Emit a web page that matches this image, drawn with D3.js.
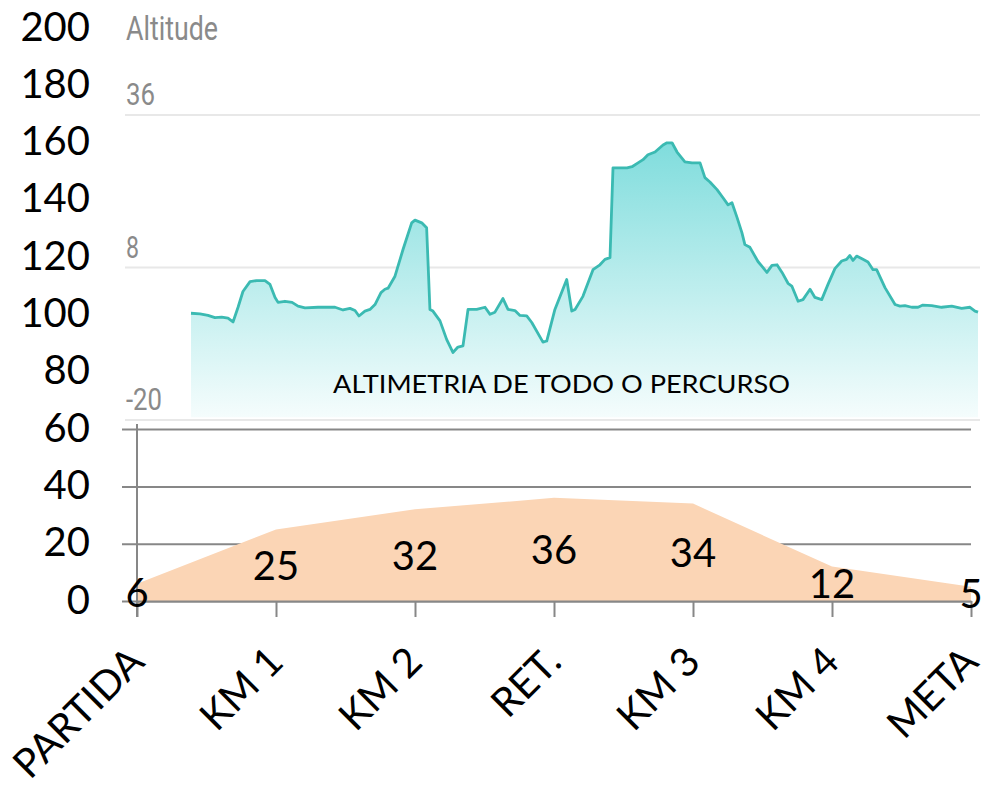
<html lang='pt'>
    <head>
        <title>
            Altimetria do percurso
        </title>
        <script src="https://d3js.org/d3.v7.min.js" charset="utf-8"></script>
        <style>
          body {
            margin: 0;
            background: #ffffff;
            font-family: "Lato", "Open Sans", sans-serif;
          }
          .inset-label {
            font-family: "Roboto", sans-serif;
            fill: #8a8a8a;
          }
        </style>
    </head>
    <body>
        <script>
            // 1. data for the main chart (excel-like area chart)
            var categories = ["PARTIDA", "KM 1", "KM 2", "RET.", "KM 3", "KM 4", "META"]
            var values = [6, 25, 32, 36, 34, 12, 5]
            var yTicks = [0, 20, 40, 60, 80, 100, 120, 140, 160, 180, 200]

            // 2. data for the pasted altitude profile (distance km, altitude m)
            var altDist = [0.000, 0.057, 0.108, 0.152, 0.195, 0.235, 0.267, 0.299, 0.330, 0.375,
                           0.417, 0.470, 0.502, 0.534, 0.553, 0.597, 0.642, 0.680, 0.724, 0.807,
                           0.915, 0.966, 1.010, 1.042, 1.067, 1.105, 1.137, 1.169, 1.207, 1.232,
                           1.252, 1.296, 1.347, 1.402, 1.423, 1.466, 1.497, 1.518, 1.537, 1.582,
                           1.624, 1.664, 1.696, 1.728, 1.760, 1.815, 1.868, 1.900, 1.931, 1.982,
                           2.014, 2.058, 2.090, 2.133, 2.165, 2.236, 2.260, 2.312, 2.387, 2.419,
                           2.440, 2.490, 2.554, 2.598, 2.630, 2.662, 2.681, 2.770, 2.802, 2.840,
                           2.872, 2.903, 2.948, 2.999, 3.024, 3.056, 3.088, 3.138, 3.183, 3.234,
                           3.265, 3.297, 3.342, 3.380, 3.412, 3.437, 3.469, 3.500, 3.519, 3.551,
                           3.602, 3.628, 3.659, 3.691, 3.723, 3.755, 3.793, 3.817, 3.857, 3.888,
                           3.933, 3.964, 4.007, 4.047, 4.091, 4.134, 4.165, 4.186, 4.206, 4.229,
                           4.269, 4.301, 4.333, 4.356, 4.409, 4.473, 4.504, 4.536, 4.579, 4.619,
                           4.650, 4.706, 4.769, 4.833, 4.896, 4.949, 4.981, 5.000]
            var altValue = [-0.4, -0.5, -0.8, -1.2, -1.1, -1.3, -2.0, 0.7, 3.6, 5.4,
                            5.6, 5.6, 4.9, 2.5, 1.6, 1.8, 1.6, 0.9, 0.6, 0.7,
                            0.7, 0.2, 0.5, 0.1, -0.9, 0.0, 0.3, 1.2, 3.4, 4.0,
                            4.2, 6.4, 11.3, 16.2, 16.7, 16.2, 15.3, 0.3, 0.0, -1.8,
                            -5.2, -7.6, -6.6, -6.4, 0.3, 0.3, 0.7, -0.6, -0.2, 2.3,
                            0.3, 0.1, -0.8, -0.9, -2.1, -5.7, -5.5, 0.3, 5.8, 0.0,
                            0.3, 2.7, 7.6, 8.5, 9.5, 9.8, 26.3, 26.3, 26.5, 27.2,
                            27.8, 28.7, 29.2, 30.5, 30.9, 30.9, 29.2, 27.4, 27.2, 27.2,
                            24.5, 23.7, 22.3, 20.8, 19.5, 19.9, 17.2, 14.4, 12.2, 11.7,
                            9.1, 8.2, 7.1, 8.4, 8.5, 7.1, 5.1, 4.6, 1.8, 2.1,
                            4.0, 2.5, 2.1, 4.9, 7.8, 9.2, 9.5, 10.2, 9.3, 10.1,
                            9.5, 9.0, 7.6, 7.6, 4.3, 1.2, 0.9, 1.0, 0.7, 0.7,
                            1.1, 1.0, 0.7, 0.9, 0.5, 0.7, 0.0, -0.2]
            var altTicks = [36, 8, -20]
            var altTitle = "Altitude"
            var altCaption = "ALTIMETRIA DE TODO O PERCURSO"

            // 3. svg canvas
            var width = 985
            var height = 785

            var svg = d3.select("body")
                        .append("svg")
                        .attr("width", width)
                        .attr("height", height)

            // 4. scales
            var x = d3.scalePoint()
              .domain(categories)
              .range([137, 971])

            var y = d3.scaleLinear()
              .domain([0, 200])
              .range([601, 28])

            var gridColor = "#878787"

            // 5. y axis = gridlines + labels
            var yAxisG = svg.append("g")
              .attr("transform", "translate(122,0)")
              .call(d3.axisLeft(y)
                .tickValues(yTicks)
                .tickSize(-(971 - 122))
                .tickPadding(32))

            yAxisG.select(".domain").remove()
            yAxisG.selectAll(".tick line")
              .attr("stroke", gridColor)
              .attr("stroke-width", 2)
            yAxisG.selectAll(".tick text")
              .attr("font-family", "Lato, sans-serif")
              .attr("font-size", 40)
              .attr("fill", "#000")
              .attr("dy", "0.3em")

            // 6. the area
            var area = d3.area()
              .x(function(d, i){ return x(categories[i]) })
              .y0(y(0))
              .y1(function(d){ return y(d) })

            svg.append("path")
              .datum(values)
              .attr("d", area)
              .attr("fill", "#fbd5b5")

            // 7. x axis (drawn over the area)
            var xAxisG = svg.append("g")
              .attr("transform", "translate(0," + y(0) + ")")
              .call(d3.axisBottom(x).tickSize(16).tickSizeOuter(0))

            xAxisG.select(".domain")
              .attr("stroke", gridColor)
              .attr("stroke-width", 2)
            xAxisG.selectAll(".tick line")
              .attr("stroke", gridColor)
              .attr("stroke-width", 2)
            xAxisG.selectAll(".tick text")
              .attr("font-family", "Lato, sans-serif")
              .attr("font-size", 40)
              .attr("fill", "#000")
              .attr("text-anchor", "end")
              .attr("x", 0)
              .attr("y", 0)
              .attr("dy", 0)
              .attr("transform", "translate(9,63) rotate(-45)")

            // y axis line
            svg.append("line")
              .attr("x1", x(categories[0])).attr("x2", x(categories[0]))
              .attr("y1", y(0) + 16).attr("y2", y(200))
              .attr("stroke", gridColor)
              .attr("stroke-width", 2)

            // 8. data labels (centred at half the value)
            svg.append("g").selectAll("text")
              .data(values)
              .enter()
              .append("text")
              .attr("x", function(d, i){ return x(categories[i]) })
              .attr("y", function(d){ return y(d / 2) })
              .attr("dy", "0.36em")
              .attr("text-anchor", "middle")
              .attr("font-size", 40)
              .attr("fill", "#000")
              .text(function(d){ return d })

            // 9. pasted altitude picture
            var insetG = svg.append("g")

            insetG.append("rect")
              .attr("x", 120).attr("y", 0)
              .attr("width", 863).attr("height", 424)
              .attr("fill", "#ffffff")

            var ax = d3.scaleLinear()
              .domain([0, 5])
              .range([191, 978])

            var ay = d3.scaleLinear()
              .domain([-20, 36])
              .range([420, 115])

            insetG.selectAll(".altgrid")
              .data(altTicks)
              .enter()
              .append("line")
              .attr("class", "altgrid")
              .attr("x1", 125).attr("x2", 980)
              .attr("y1", function(d){ return ay(d) })
              .attr("y2", function(d){ return ay(d) })
              .attr("stroke", "#e8e8e8")
              .attr("stroke-width", 2)

            var altWidths = {"36": 29, "8": 13, "-20": 36}
            insetG.selectAll(".altlab")
              .data(altTicks)
              .enter()
              .append("text")
              .attr("class", "inset-label")
              .attr("x", 126)
              .attr("y", function(d){ return ay(d) - 10 })
              .attr("font-size", 32)
              .attr("textLength", function(d){ return altWidths[d] })
              .attr("lengthAdjust", "spacingAndGlyphs")
              .text(function(d){ return d })

            insetG.append("text")
              .attr("class", "inset-label")
              .attr("x", 126)
              .attr("y", 40)
              .attr("font-size", 33)
              .attr("textLength", 92)
              .attr("lengthAdjust", "spacingAndGlyphs")
              .text(altTitle)

            var defs = svg.append("defs")
            var grad = defs.append("linearGradient")
              .attr("id", "altFill")
              .attr("gradientUnits", "userSpaceOnUse")
              .attr("x1", 0).attr("x2", 0)
              .attr("y1", ay(32)).attr("y2", ay(-20))
            grad.append("stop").attr("offset", "0%").attr("stop-color", "#7ddcdc")
            grad.append("stop").attr("offset", "100%").attr("stop-color", "#f6fdfd")

            var altPoints = altDist.map(function(d, i){ return [d, altValue[i]] })

            var altArea = d3.area()
              .x(function(d){ return ax(d[0]) })
              .y0(ay(-19.5))
              .y1(function(d){ return ay(d[1]) })

            var altLine = d3.line()
              .x(function(d){ return ax(d[0]) })
              .y(function(d){ return ay(d[1]) })

            insetG.append("path")
              .datum(altPoints)
              .attr("d", altArea)
              .attr("fill", "url(#altFill)")

            insetG.append("path")
              .datum(altPoints)
              .attr("d", altLine)
              .attr("fill", "none")
              .attr("stroke", "#3bbab2")
              .attr("stroke-width", 2.8)
              .attr("stroke-linejoin", "round")

            insetG.append("text")
              .attr("x", 333)
              .attr("y", 393)
              .attr("font-size", 25)
              .attr("fill", "#000")
              .attr("textLength", 457)
              .attr("lengthAdjust", "spacingAndGlyphs")
              .text(altCaption)
        </script>
    </body>
</html>
